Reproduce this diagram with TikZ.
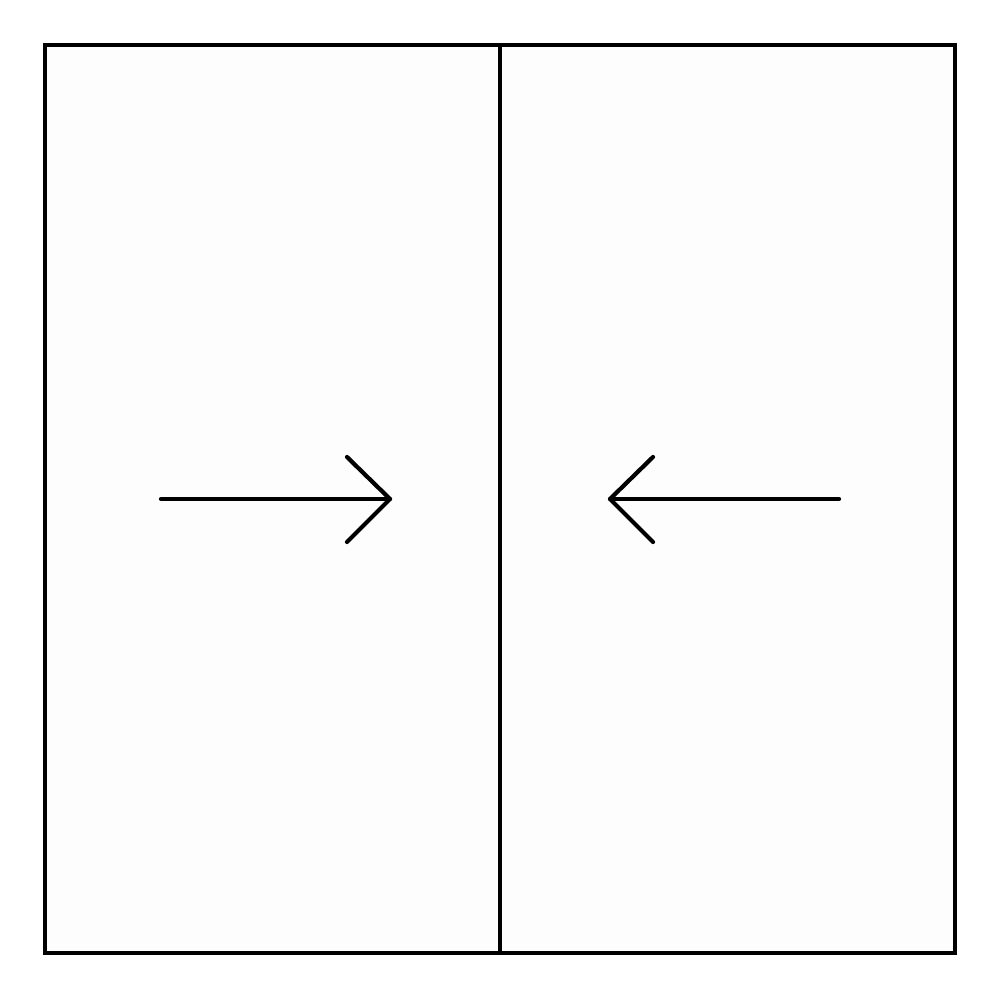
\documentclass[tikz,border=0pt]{standalone}
\begin{document}
\begin{tikzpicture}[x=0.01cm,y=-0.01cm,
  frame/.style={line width=1.2pt, line join=miter},
  arrowline/.style={line width=1.2pt, line cap=round, line join=round}]
\useasboundingbox (0,0) rectangle (1000,1000);
\fill[white] (0,0) rectangle (1000,1000);
% panels
\draw[frame, fill={rgb,255:red,253;green,253;blue,253}] (45,45) rectangle (955,953);
\coordinate (mtop) at (500,45);
\coordinate (mbot) at (500,953);
\draw[frame] (mtop) -- (mbot);
% left arrow
\coordinate (la) at (161,499);
\coordinate (lb) at (390,499);
\draw[arrowline] (la) -- (lb);
\draw[arrowline] (347,457) -- (lb) -- (347,542);
% right arrow
\coordinate (ra) at (839,499);
\coordinate (rb) at (610,499);
\draw[arrowline] (ra) -- (rb);
\draw[arrowline] (653,457) -- (rb) -- (653,542);
\end{tikzpicture}
\end{document}
